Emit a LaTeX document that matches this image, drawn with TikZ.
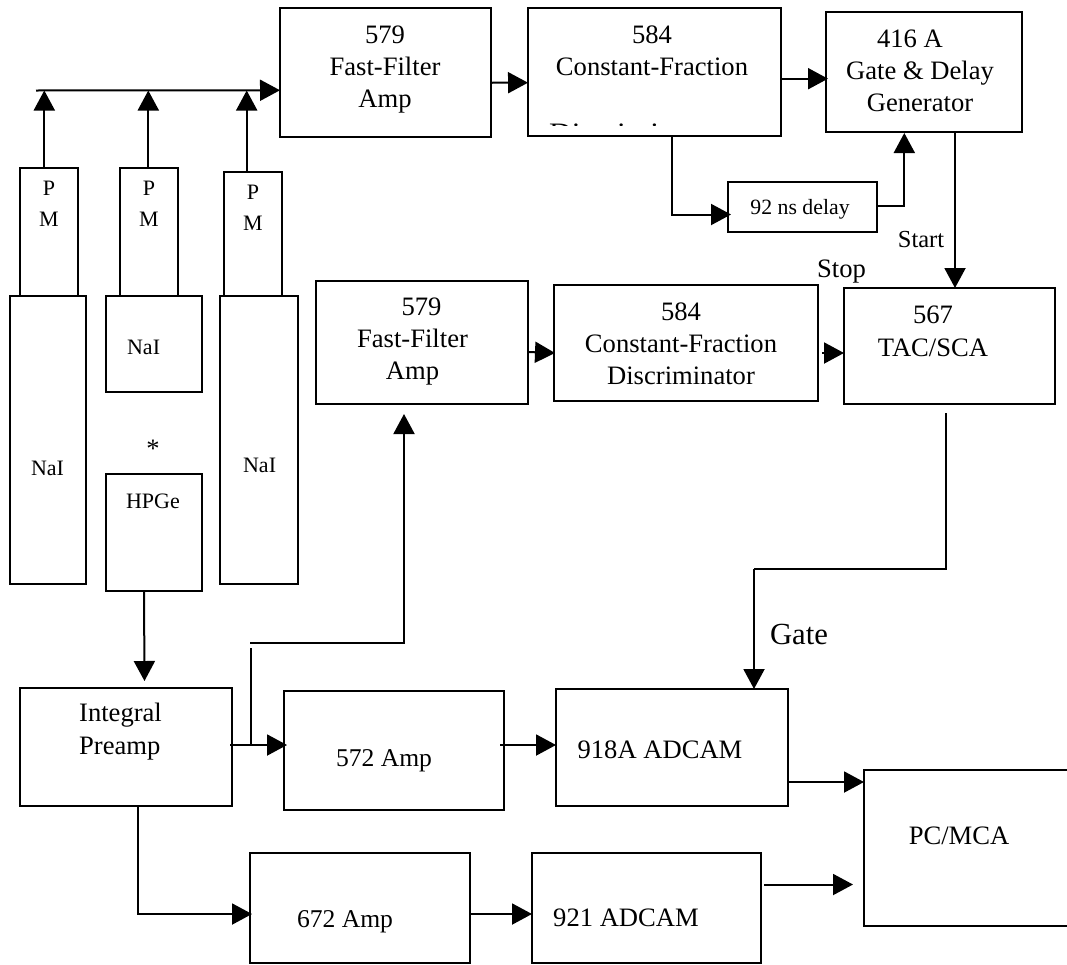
\documentclass[tikz,border=0pt]{standalone}
\usepackage{fontspec}
\setmainfont{Liberation Serif}
\usetikzlibrary{arrows.meta}
\tikzset{
  blk/.style={draw,line width=2pt,inner sep=0pt,outer sep=0pt},
  txt/.style={align=center,inner sep=0pt,font=\fontsize{26.6}{32}\selectfont},
  small/.style={txt,font=\fontsize{22}{31}\selectfont},
  amptxt/.style={txt,font=\fontsize{25.6}{32}\selectfont},
  wire/.style={line width=2pt},
  arr/.style={wire,-{Triangle[length=20pt,width=21pt]}}
}
\begin{document}
\begin{tikzpicture}[x=1pt,y=-1pt]
\useasboundingbox (0,0) rectangle (1067,964);
\node[blk,minimum width=210.5pt,minimum height=128.5pt] (ampa) at (385.25,72.25) {};
\node[blk,minimum width=252.5pt,minimum height=128pt] (cfda) at (654.25,72) {};
\node[blk,minimum width=196pt,minimum height=120pt] (gdg) at (924,72) {};
\node[blk,minimum width=149pt,minimum height=50pt] (dly) at (802.5,207) {};
\node[blk,minimum width=58pt,minimum height=128pt] (pma) at (49,232) {};
\node[blk,minimum width=58pt,minimum height=128pt] (pmb) at (149,232) {};
\node[blk,minimum width=58pt,minimum height=124pt] (pmc) at (253,234) {};
\node[blk,minimum width=76pt,minimum height=288pt] (naia) at (48,440) {};
\node[blk,minimum width=96pt,minimum height=96pt] (naib) at (154,344) {};
\node[blk,minimum width=78pt,minimum height=288pt] (naic) at (259,440) {};
\node[blk,minimum width=96pt,minimum height=117pt] (hpge) at (154,532.5) {};
\node[blk,minimum width=212pt,minimum height=123pt] (ampb) at (422,342.5) {};
\node[blk,minimum width=264pt,minimum height=116pt] (cfdb) at (686,342.5) {};
\node[blk,minimum width=211pt,minimum height=116pt] (tac) at (949.5,346) {};
\node[blk,minimum width=212pt,minimum height=118pt] (pre) at (126,747) {};
\node[blk,minimum width=220pt,minimum height=119pt] (ampc) at (394,750.5) {};
\node[blk,minimum width=232pt,minimum height=117pt] (adca) at (672,747.5) {};
\node[blk,minimum width=220pt,minimum height=110.3pt] (ampd) at (360,907.85) {};
\node[blk,minimum width=229pt,minimum height=110.3pt] (adcb) at (646.5,907.85) {};
\node[blk,minimum width=211pt,minimum height=156pt] (pc) at (969.5,848) {};
\node[txt] (ampatxt) at (385,70) {579\\Fast-Filter\\Amp};
\node[txt] (cfdatxt) at (652,51) {584\\Constant-Fraction};
\begin{scope}
\clip (540,123.2) rectangle (770,125.8);
\node[txt,anchor=base west,xscale=1.18,transform shape] (cfdaend) at (549,141.5) {Discriminator};
\end{scope}
\node[txt] (gdgtxt) at (920,71) {416 A\hspace*{20pt}\\Gate \& Delay\\Generator};
\node[txt,font=\fontsize{21.8}{26}\selectfont] (dlytxt) at (800,209) {92 ns delay};
\node[small] (pmatxt) at (49,204) {P\\M};
\node[small] (pmbtxt) at (149,204) {P\\M};
\node[small] (pmctxt) at (253,208) {P\\M};
\node[small] (naiatxt) at (47.5,468) {NaI};
\node[small] (naibtxt) at (143.6,347) {NaI};
\node[small] (naictxt) at (259.6,465) {NaI};
\node[small] (hpgetxt) at (153,501) {HPGe};
\node[txt] (star) at (153,449) {*};
\node[txt] (ampbtxt) at (412.5,342) {\hspace*{18pt}579\\Fast-Filter\\Amp};
\node[txt] (cfdbtxt) at (681,343.5) {584\\Constant-Fraction\\Discriminator};
\node[txt] (tactxt) at (933,331) {567\\[1pt]TAC/SCA};
\node[txt,align=left] (pretxt) at (120.5,731.5) {Integral\\[1pt]Preamp};
\node[amptxt] (ampctxt) at (384,761) {572 Amp};
\node[txt] (adcatxt) at (660,750) {918A ADCAM};
\node[amptxt] (ampdtxt) at (345,922) {672 Amp};
\node[txt] (adcbtxt) at (626,918) {921 ADCAM};
\node[txt] (pctxt) at (959,836) {PC/MCA};
\node[txt,font=\fontsize{24.5}{32}\selectfont] (start) at (921,240) {Start};
\node[txt] (stop) at (841.5,272) {Stop};
\node[txt,font=\fontsize{30.7}{32}\selectfont] (gate) at (799,634) {Gate};
\coordinate (busa) at (36,90.5);
\coordinate (gatebend) at (754,569);
\coordinate (feedtop) at (250,642.5);
\coordinate (feeda) at (250.5,648);
\coordinate (feedb) at (250.5,745);
\draw[arr] (busa) -- ([yshift=-18]ampa.west);
\draw[arr] ([xshift=-4.7]pma.north) -- ([xshift=-4.7]pma.north |- busa);
\draw[arr] ([xshift=-0.7]pmb.north) -- ([xshift=-0.7]pmb.north |- busa);
\draw[arr] ([xshift=-6.3]pmc.north) -- ([xshift=-6.3]pmc.north |- busa);
\draw[arr] ([yshift=-10.5]ampa.east) -- ([yshift=-10.7]cfda.west);
\draw[arr] ([yshift=-6.7]cfda.east) -- ([xshift=2,yshift=-6.7]gdg.west);
\draw[arr] ([xshift=18]cfda.south) |- ([xshift=3,yshift=-7.5]dly.west);
\draw[arr] ([yshift=1]dly.east) -| ([xshift=-19.7,yshift=-1]gdg.south);
\draw[arr] ([xshift=31]gdg.south) -- ([xshift=5.5]tac.north);
\draw[arr] ([yshift=-9.5]ampb.east) -- ([xshift=1,yshift=-10.5]cfdb.west);
\draw[arr] ([xshift=4,yshift=-10.5]cfdb.east) -- ([yshift=-7]tac.west);
\draw[wire] ([xshift=-3.5,yshift=-9]tac.south) |- (gatebend);
\draw[arr] (gatebend) -- ([xshift=82]adca.north);
\draw[arr] ([xshift=-10]hpge.south) -- ([xshift=18.5,yshift=7]pre.north);
\draw[arr] ([xshift=-2,yshift=2]pre.east) -- ([xshift=3,yshift=5.5]ampc.west);
\draw[arr] (feedtop) -| ([xshift=-18,yshift=-10]ampb.south);
\draw[wire] (feeda) -- (feedb);
\draw[arr] ([xshift=-4,yshift=5.5]ampc.east) -- ([yshift=2.5]adca.west);
\draw[arr] ([yshift=-34.5]adca.east) -- ([yshift=66]pc.west);
\draw[arr] ([xshift=12]pre.south) |- ([xshift=2,yshift=-6.15]ampd.west);
\draw[arr] ([yshift=-6.15]ampd.east) -- ([yshift=-6.15]adcb.west);
\draw[arr] ([xshift=3,yshift=23.35]adcb.east) -- ([xshift=-11,yshift=-36.5]pc.west);
\end{tikzpicture}
\end{document}
